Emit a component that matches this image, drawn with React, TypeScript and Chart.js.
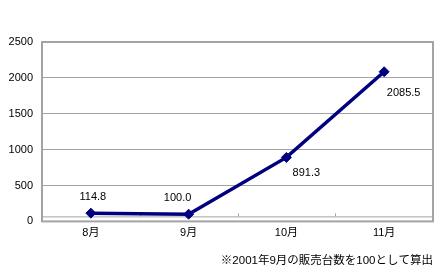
import React, { useEffect, useRef } from "react";
import { Chart, registerables } from "chart.js";

Chart.register(...registerables);

// ---- data ----
const categories = ["8月", "9月", "10月", "11月"];
const values = [114.8, 100.0, 891.3, 2085.5];
const valueLabels = ["114.8", "100.0", "891.3", "2085.5"];
const yMin = 0;
const yMax = 2500;
const yStep = 500;
const footnote = "※2001年9月の販売台数を100として算出";

// ---- style ----
const FONT = "'Liberation Sans', Arial, 'Noto Sans CJK JP', sans-serif";
const LINE_COLOR = "#00007e";
const GRID_COLOR = "#a3a3a3";
// offsets (dx, dy) of each value label from its point
const labelOffsets: [number, number][] = [
  [2, -16],
  [-11, -16.5],
  [20, 15.5],
  [19.5, 21],
];

const decorPlugin = {
  id: "decor",
  beforeDatasetsDraw(chart: any) {
    const { ctx, chartArea: a, scales } = chart;
    ctx.save();
    ctx.strokeStyle = GRID_COLOR;
    ctx.lineWidth = 2;
    ctx.strokeRect(a.left, a.top, a.right - a.left, a.bottom - a.top);
    // inner category axis line with boundary ticks
    const y = a.bottom - 5;
    ctx.lineWidth = 1;
    ctx.beginPath();
    ctx.moveTo(a.left, y + 0.5);
    ctx.lineTo(a.right, y + 0.5);
    const xs = scales.x;
    for (let i = 0; i < categories.length - 1; i++) {
      const bx = Math.round((xs.getPixelForValue(i) + xs.getPixelForValue(i + 1)) / 2) + 0.5;
      ctx.moveTo(bx, y);
      ctx.lineTo(bx, y - 3);
    }
    ctx.stroke();
    ctx.restore();
  },
  afterDatasetsDraw(chart: any) {
    const { ctx } = chart;
    const meta = chart.getDatasetMeta(0);
    ctx.save();
    ctx.font = `11px ${FONT}`;
    ctx.fillStyle = "#000";
    ctx.textAlign = "center";
    ctx.textBaseline = "middle";
    meta.data.forEach((pt: any, i: number) => {
      const [dx, dy] = labelOffsets[i];
      ctx.fillText(valueLabels[i], pt.x + dx, pt.y + dy);
    });
    ctx.restore();
  },
};

export default function App() {
  const ref = useRef<HTMLCanvasElement>(null);

  useEffect(() => {
    if (!ref.current) return;
    Chart.defaults.font.family = FONT;
    Chart.defaults.color = "#000";
    const chart = new Chart(ref.current, {
      type: "line",
      data: {
        labels: categories,
        datasets: [
          {
            data: values,
            borderColor: LINE_COLOR,
            backgroundColor: LINE_COLOR,
            borderWidth: 3.5,
            pointStyle: "rectRot",
            pointRadius: 5,
            pointBackgroundColor: LINE_COLOR,
            pointBorderColor: LINE_COLOR,
            pointBorderWidth: 1,
            tension: 0,
          },
        ],
      },
      options: {
        animation: false,
        responsive: false,
        devicePixelRatio: 1,
        layout: { padding: { left: 0, right: 7, top: 42, bottom: 0 } },
        plugins: {
          legend: { display: false },
          tooltip: { enabled: false },
          title: {
            display: true,
            text: footnote,
            position: "bottom",
            align: "end",
            color: "#000",
            font: { size: 11.5, weight: "normal", family: FONT },
            padding: { top: 0, bottom: 5 },
          },
        },
        scales: {
          x: {
            type: "category",
            offset: true,
            grid: { display: false, drawTicks: false },
            border: { display: false },
            ticks: { padding: 5, font: { size: 11 }, color: "#000", maxRotation: 0 },
            afterFit(scale: any) {
              scale.height = 32.8;
            },
          },
          y: {
            min: yMin,
            max: yMax,
            grid: { color: GRID_COLOR, lineWidth: 1, drawTicks: false },
            border: { display: false },
            ticks: {
              stepSize: yStep,
              padding: 9,
              font: { size: 11 },
              color: "#000",
              callback: (v: any) => String(v),
            },
            afterFit(scale: any) {
              scale.width = 42;
            },
          },
        },
      },
      plugins: [decorPlugin],
    });
    return () => chart.destroy();
  }, []);

  return (
    <div style={{ position: "fixed", left: 0, top: 0, width: 440, height: 273, background: "#fff" }}>
      <canvas ref={ref} width={440} height={273} style={{ display: "block" }} />
    </div>
  );
}
